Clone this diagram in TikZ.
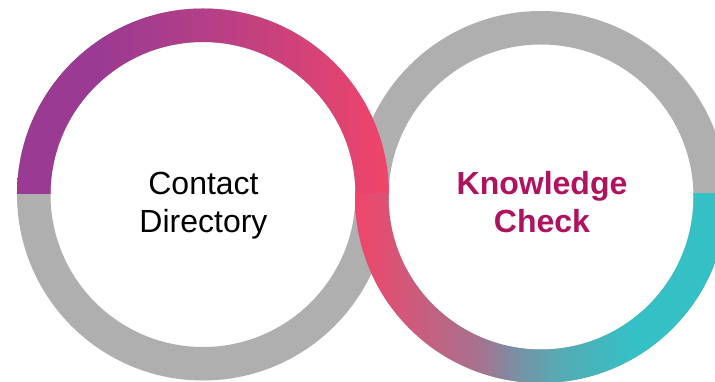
\documentclass[tikz,border=0pt]{standalone}
\usepackage{fontspec}
\setmainfont{Liberation Sans}
\definecolor{ringgray}{HTML}{AFAFAF}
\definecolor{kcol}{HTML}{B0125F}
\definecolor{pa}{HTML}{9B3A92}
\definecolor{pb}{HTML}{B23E88}
\definecolor{pc}{HTML}{F0456A}
\definecolor{ra}{HTML}{F0456A}
\definecolor{rb}{HTML}{A5738F}
\definecolor{rc}{HTML}{7A8FA3}
\definecolor{rd}{HTML}{58A9B2}
\definecolor{re}{HTML}{35C0C5}
\pgfdeclarehorizontalshading{leftgrad}{100bp}{
  color(0bp)=(pa); color(36bp)=(pa); color(49.6bp)=(pb); color(75bp)=(pc); color(100bp)=(pc)}
\pgfdeclarehorizontalshading{rightgrad}{100bp}{
  color(0bp)=(ra); color(25bp)=(ra); color(41.8bp)=(rb); color(46.5bp)=(rc); color(52bp)=(rd); color(62bp)=(re); color(100bp)=(re)}
\tikzset{
  label text/.style={font=\fontsize{32}{38}\selectfont, align=center, inner sep=0pt, anchor=center},
}
\begin{document}
\begin{tikzpicture}[x=1pt,y=1pt]
\useasboundingbox (0,0) rectangle (715,382);
\fill[white] (0,0) rectangle (715,382);
\clip (0,0) rectangle (715,382);
% grey rings
\fill[ringgray, even odd rule] (541,185) circle[radius=186] (541,185) circle[radius=152.5];
\fill[ringgray, even odd rule] (203,187.5) circle[radius=186] (203,187.5) circle[radius=152.5];
% left coloured upper half
\begin{scope}
\clip (0,188) rectangle (400,382);
\shade[shading=leftgrad, even odd rule] (203,187.5) circle[radius=186] (203,187.5) circle[radius=152.5];
\end{scope}
% right coloured lower half
\begin{scope}
\clip (340,0) rectangle (735,188);
\shade[shading=rightgrad, even odd rule] (541,185) circle[radius=186] (541,185) circle[radius=152.5];
\end{scope}
\node[label text] (contact) at (203.5,176) {Contact\\Directory};
\node[label text, text=kcol, font=\fontsize{32}{38}\selectfont\bfseries] (knowledge) at (542,180) {Knowledge\\Check};
\end{tikzpicture}
\end{document}
